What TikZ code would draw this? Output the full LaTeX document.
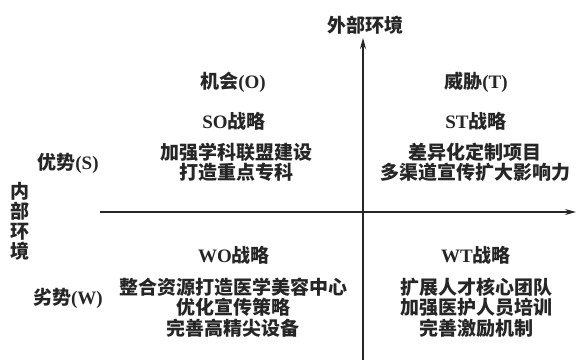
\documentclass[tikz,border=0pt]{standalone}
\usepackage{fontspec}
\setmainfont{Liberation Serif}
\newfontfamily\cjk{Noto Sans CJK SC}
\usetikzlibrary{arrows.meta}
\newcommand\zh[1]{{\cjk\bfseries #1}}
\begin{document}
\begin{tikzpicture}[x=1pt,y=-1pt,
  lbl/.style={font=\fontsize{19}{20.5}\selectfont\bfseries, inner sep=0pt, align=center, text=black!85},
  axis/.style={line width=1.2pt, draw=black!85, -{Stealth[length=11pt,width=6pt]}}]
\useasboundingbox (0,0) rectangle (576,360);
\coordinate (vb) at (363,360);
\coordinate (vt) at (363,38);
\coordinate (hl) at (100,212);
\coordinate (hr) at (576,212);
\draw[axis] (vb) -- (vt);
\draw[axis] (hl) -- (hr);
\node[lbl] (ext) at (365,25) {\zh{外部环境}};
\node[lbl, align=center] (int) at (20,221) {\zh{内}\\[-0.5pt]\zh{部}\\[-0.5pt]\zh{环}\\[-0.5pt]\zh{境}};
\node[lbl] (opp) at (233,82) {\zh{机会}(O)};
\node[lbl] (thr) at (476,82) {\zh{威胁}(T)};
\node[lbl] (str) at (68,163) {\zh{优势}(S)};
\node[lbl] (wea) at (68,298) {\zh{劣势}(W)};
\node[lbl] (so) at (234,121) {SO\zh{战略}};
\node[lbl] (st) at (476,121) {ST\zh{战略}};
\node[lbl] (wo) at (234,255) {WO\zh{战略}};
\node[lbl] (wt) at (476,255) {WT\zh{战略}};
\node[lbl] (sotx) at (236,162.5) {\zh{加强学科联盟建设}\\\zh{打造重点专科}};
\node[lbl] (sttx) at (475,162.5) {\zh{差异化定制项目}\\\zh{多渠道宣传扩大影响力}};
\node[lbl] (wotx) at (233,307.5) {\zh{整合资源打造医学美容中心}\\\zh{优化宣传策略}\\\zh{完善高精尖设备}};
\node[lbl] (wttx) at (476,307.5) {\zh{扩展人才核心团队}\\\zh{加强医护人员培训}\\\zh{完善激励机制}};
\end{tikzpicture}
\end{document}
